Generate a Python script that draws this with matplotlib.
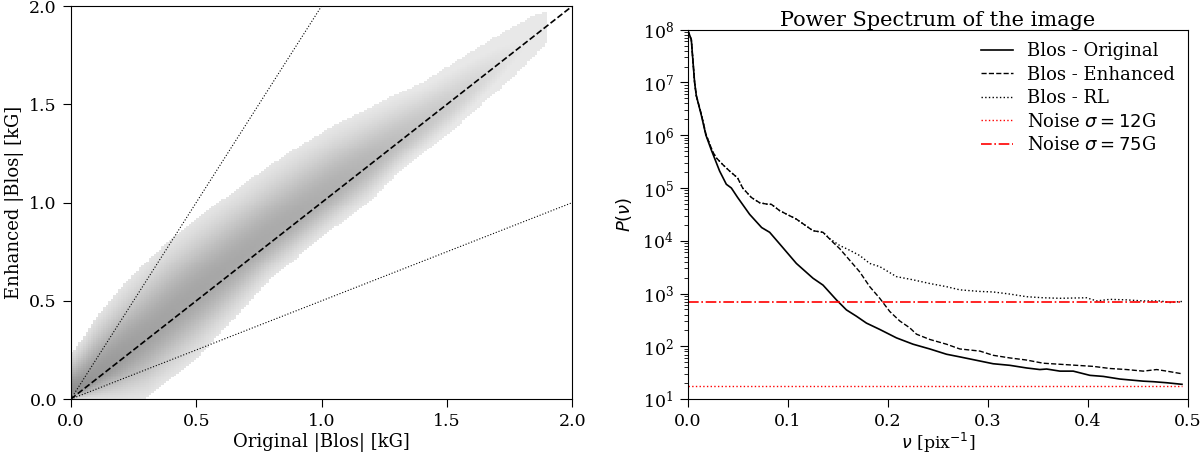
import numpy as np
import matplotlib
matplotlib.use("Agg")
import matplotlib.pyplot as plt
from matplotlib.colors import LinearSegmentedColormap

plt.rcParams['font.family'] = ['DejaVu Serif']
plt.rcParams['font.size'] = 12.5
plt.rcParams['xtick.major.size'] = 6
plt.rcParams['ytick.major.size'] = 6
plt.rcParams['xtick.minor.size'] = 3
plt.rcParams['ytick.minor.size'] = 3
plt.rcParams['xtick.major.pad'] = 4
plt.rcParams['ytick.major.pad'] = 4

# --- left panel: scatter density of |Blos| ---
band_x = [0.0, 0.05, 0.1, 0.2, 0.3, 0.4, 0.5, 0.65, 0.78, 0.91, 1.05, 1.18, 1.3, 1.4, 1.5, 1.6, 1.75, 1.85, 1.9]
band_ridge = [0.03, 0.06, 0.11, 0.21, 0.32, 0.43, 0.54, 0.69, 0.82, 0.94, 1.07, 1.19, 1.3, 1.39, 1.48, 1.58, 1.74, 1.84, 1.9]
band_hi = [0.22, 0.3, 0.4, 0.55, 0.68, 0.8, 0.9, 1.04, 1.16, 1.27, 1.38, 1.46, 1.54, 1.6, 1.68, 1.76, 1.88, 1.95, 1.97]
band_lo = [0.0, 0.0, 0.0, 0.0, 0.02, 0.12, 0.22, 0.42, 0.6, 0.74, 0.88, 1.0, 1.15, 1.25, 1.35, 1.46, 1.63, 1.75, 1.82]
band_amp = [1.0, 0.95, 0.9, 0.85, 0.8, 0.78, 0.76, 0.74, 0.72, 0.7, 0.66, 0.6, 0.52, 0.45, 0.38, 0.3, 0.15, 0.08, 0.04]

# --- right panel: power spectra (log10 P) ---
nu_orig = [0.0, 0.0037, 0.007, 0.0087, 0.0137, 0.0183, 0.0237, 0.032, 0.0387, 0.0437, 0.05, 0.062,
           0.074, 0.082, 0.092, 0.1087, 0.1253, 0.1353, 0.1487, 0.1587, 0.1687, 0.1787, 0.192, 0.2087,
           0.2253, 0.242, 0.2587, 0.272, 0.3053, 0.322, 0.3387, 0.352, 0.3587, 0.372, 0.3853, 0.402,
           0.4153, 0.432, 0.4553, 0.4653, 0.4787, 0.494]
logp_orig = [8.0, 7.81, 7.0, 6.75, 6.38, 6.0, 5.72, 5.32, 5.07, 5.0, 4.82, 4.5,
             4.25, 4.16, 3.94, 3.57, 3.29, 3.16, 2.88, 2.69, 2.57, 2.44, 2.32, 2.16,
             2.04, 1.95, 1.85, 1.8, 1.67, 1.64, 1.59, 1.56, 1.57, 1.53, 1.53, 1.45,
             1.43, 1.38, 1.34, 1.33, 1.31, 1.28]

nu_enh = [0.0, 0.0037, 0.007, 0.0087, 0.0137, 0.0183, 0.025, 0.0287, 0.0353, 0.042, 0.05, 0.055,
          0.0637, 0.072, 0.0803, 0.0837, 0.092, 0.1087, 0.1253, 0.1353, 0.1453, 0.152, 0.162, 0.172,
          0.182, 0.192, 0.202, 0.212, 0.222, 0.2287, 0.242, 0.2587, 0.272, 0.292, 0.3053, 0.322,
          0.3387, 0.3553, 0.372, 0.3887, 0.4053, 0.422, 0.4387, 0.4553, 0.4687, 0.4787, 0.494]
logp_enh = [8.0, 7.81, 7.0, 6.75, 6.4, 6.02, 5.69, 5.57, 5.44, 5.32, 5.19, 5.0,
            4.82, 4.72, 4.69, 4.69, 4.57, 4.41, 4.19, 4.16, 3.97, 3.85, 3.63, 3.41,
            3.13, 2.91, 2.66, 2.48, 2.35, 2.23, 2.13, 2.04, 1.95, 1.91, 1.83, 1.78,
            1.74, 1.68, 1.66, 1.64, 1.62, 1.58, 1.56, 1.53, 1.56, 1.53, 1.48]

nu_rl = [0.0, 0.0037, 0.007, 0.0087, 0.0137, 0.0183, 0.025, 0.0287, 0.0353, 0.042, 0.05, 0.055,
         0.0637, 0.072, 0.0803, 0.0837, 0.092, 0.1087, 0.1253, 0.1353, 0.142, 0.152, 0.162, 0.172,
         0.182, 0.192, 0.2087, 0.2253, 0.242, 0.2587, 0.272, 0.292, 0.3053, 0.322, 0.3387, 0.3553,
         0.372, 0.3987, 0.4087, 0.422, 0.4387, 0.4553, 0.472, 0.482, 0.494]
logp_rl = [8.0, 7.81, 7.0, 6.75, 6.4, 6.02, 5.69, 5.57, 5.44, 5.32, 5.19, 5.0,
           4.82, 4.72, 4.69, 4.69, 4.57, 4.41, 4.19, 4.16, 4.04, 3.91, 3.82, 3.72,
           3.57, 3.51, 3.32, 3.26, 3.19, 3.13, 3.07, 3.04, 3.03, 2.99, 2.94, 2.92,
           2.91, 2.92, 2.86, 2.89, 2.88, 2.86, 2.86, 2.83, 2.85]

noise_12 = 17.8
noise_75 = 705.0
nu_span = [0.0, 0.494]

fig = plt.figure(figsize=(12, 4.63), dpi=100)
ax1 = fig.add_axes([0.059, 0.138, 0.418, 0.849])
ax2 = fig.add_axes([0.573, 0.138, 0.417, 0.798])

# density image built from the band description
edges = np.linspace(0, 2, 201)
cx = 0.5 * (edges[:-1] + edges[1:])
X, Y = np.meshgrid(cx, cx)
ridge = np.interp(X, band_x, band_ridge)
hi = np.interp(X, band_x, band_hi)
lo = np.interp(X, band_x, band_lo)
amp = np.interp(X, band_x, band_amp, right=0.0)
t = np.where(Y >= ridge, (Y - ridge) / np.maximum(hi - ridge, 1e-3),
             (ridge - Y) / np.maximum(ridge - lo, 1e-3))
dens = amp * np.exp(-1.6 * t ** 2)
dens = np.ma.masked_where((t > 1.05) | (X > 1.9), dens)
cmap = LinearSegmentedColormap.from_list('grey_hist', ['#e8e8e8', '#8e8e8e'])
ax1.pcolormesh(edges, edges, dens, cmap=cmap, vmin=0.1, vmax=1, rasterized=True)

line_x = np.array([0.0, 2.0])
ax1.plot(line_x, line_x, 'k--', lw=1.2)
ax1.plot(line_x, 2 * line_x, 'k:', lw=0.8)
ax1.plot(line_x, 0.5 * line_x, 'k:', lw=0.8)
ax1.set_xlim(0, 2)
ax1.set_ylim(0, 2)
ax1.set_xticks([0.0, 0.5, 1.0, 1.5, 2.0])
ax1.set_yticks([0.0, 0.5, 1.0, 1.5, 2.0])
ax1.set_xlabel('Original |Blos| [kG]', fontsize=13, labelpad=2)
ax1.set_ylabel('Enhanced |Blos| [kG]', fontsize=13)

# power spectra
ax2.plot(nu_orig, 10 ** np.array(logp_orig), 'k-', lw=1.2, label='Blos - Original')
ax2.plot(nu_enh, 10 ** np.array(logp_enh), 'k--', lw=1.0, label='Blos - Enhanced')
ax2.plot(nu_rl, 10 ** np.array(logp_rl), 'k:', lw=1.0, label='Blos - RL')
ax2.plot(nu_span, [noise_12, noise_12], color='red', ls=':', lw=1.0, label=r'Noise $\sigma = 12$G')
ax2.plot(nu_span, [noise_75, noise_75], color='red', ls='-.', lw=1.2, label=r'Noise $\sigma = 75$G')
ax2.set_yscale('log')
ax2.set_xlim(0, 0.5)
ax2.set_ylim(10, 1e8)
ax2.set_xticks([0.0, 0.1, 0.2, 0.3, 0.4, 0.5])
ax2.set_xlabel(r'$\nu$ [pix$^{-1}$]', fontsize=12.5, labelpad=1)
ax2.set_ylabel(r'$P(\nu)$', fontsize=13, labelpad=6)
ax2.set_title('Power Spectrum of the image', fontsize=15, pad=1)
ax2.legend(loc='upper right', frameon=False, fontsize=13, borderaxespad=0.3,
           handlelength=1.8, labelspacing=0.3)

plt.savefig('out.png', dpi=100)
